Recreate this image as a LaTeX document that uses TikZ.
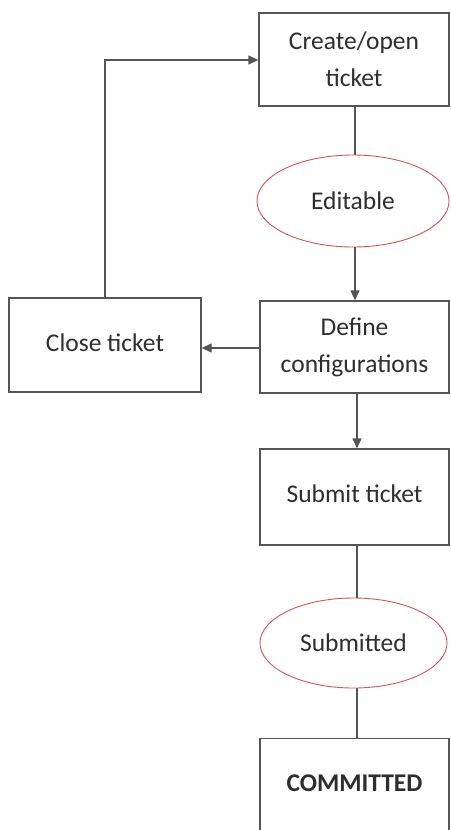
\documentclass[tikz,border=0pt]{standalone}
\usepackage{fontspec}
\setmainfont{Carlito}
\usetikzlibrary{arrows.meta,shapes.geometric}
\definecolor{edge}{HTML}{555555}
\definecolor{txt}{HTML}{2E2E2E}
\definecolor{ell}{HTML}{D9534F}
\begin{document}
\begin{tikzpicture}[x=1pt,y=1pt,
  stepbox/.style={draw=edge,line width=1.3pt,rectangle,fill=white,text=txt,
    font=\fontsize{25.5}{37}\selectfont,align=center,inner sep=0pt},
  statebox/.style={draw=ell,line width=0.9pt,ellipse,fill=white,text=txt,
    font=\fontsize{25.5}{30}\selectfont,inner sep=0pt},
  conn/.style={draw=edge,line width=1.3pt},
  arr/.style={conn,-{Triangle[length=10pt,width=9pt]}}]
\useasboundingbox (0,0) rectangle (450,-830);
\fill[white] (0,0) rectangle (450,-830);
\node[stepbox,minimum width=190,minimum height=93] (create) at (354,-59.5) {Create/open\\ticket};
\node[statebox,minimum width=192,minimum height=92] (edit) at (353,-201) {Editable};
\node[stepbox,minimum width=189,minimum height=92] (define) at (354.5,-347) {Define\\configurations};
\node[stepbox,minimum width=192,minimum height=94] (close) at (105,-345) {\raisebox{4pt}{Close ticket}};
\node[stepbox,minimum width=189,minimum height=96] (submit) at (354.5,-497) {\raisebox{6pt}{Submit ticket}};
\node[statebox,minimum width=187,minimum height=90] (subm) at (353.5,-643) {Submitted};
\node[stepbox,minimum width=189,minimum height=97] (comm) at (354.5,-787) {\raisebox{8pt}{\bfseries COMMITTED}};
\draw[conn] (create.south -| 355,0) -- (edit.north -| 355,0);
\draw[arr] (edit.south -| 355,0) -- (define.north -| 355,0);
\draw[arr] (define.south -| 357,0) -- (submit.north -| 357,0);
\draw[arr] (define.west |- 0,-348) -- (close.east |- 0,-348);
\draw[arr] (close.north) |- (create.west |- 0,-60);
\draw[conn] (submit.south -| 357,0) -- (subm.north -| 357,0);
\draw[conn] (subm.south -| 357,0) -- (comm.north -| 357,0);
\end{tikzpicture}
\end{document}
